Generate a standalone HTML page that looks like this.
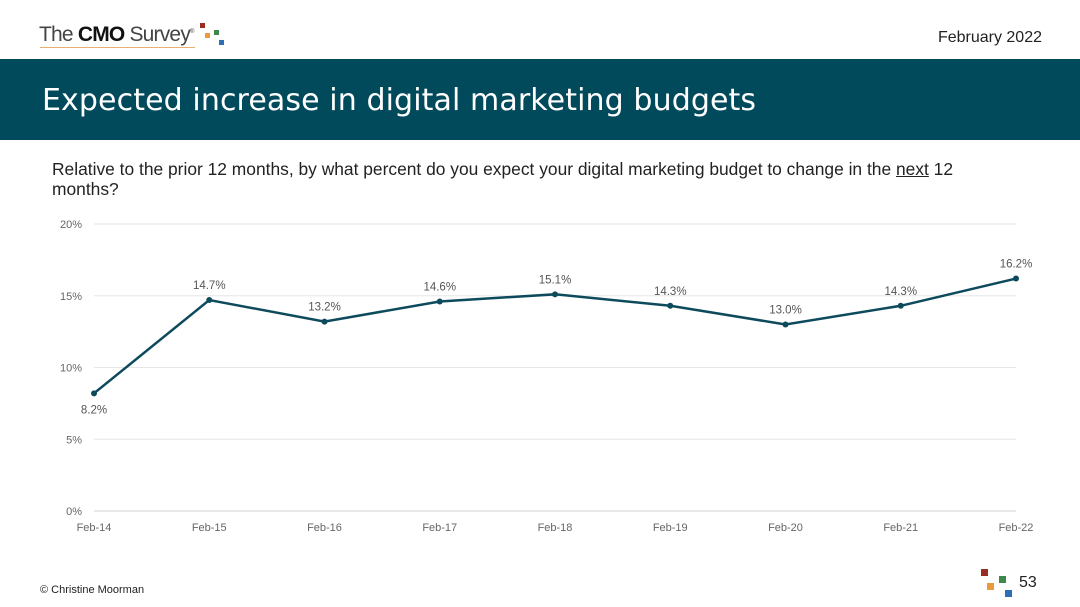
<!DOCTYPE html>
<html><head><meta charset="utf-8"><style>
body{margin:0;width:1080px;height:607px;background:#fff;font-family:"Liberation Sans",sans-serif;position:relative;overflow:hidden}
.abs{position:absolute}
</style></head><body>
<div class="abs" style="left:39px;top:23px;font-size:21px;color:#444;letter-spacing:-0.8px">The <b style="color:#111">CMO</b> Survey<sup style="font-size:6px">®</sup></div>
<div class="abs" style="left:40px;top:47px;width:155px;height:1px;background:#e8b070"></div>
<div class="abs" style="left:200px;top:23px;width:5px;height:5px;background:#9b2d20"></div>
<div class="abs" style="left:205px;top:33px;width:5px;height:5px;background:#e89a3c"></div>
<div class="abs" style="left:214px;top:30px;width:5px;height:5px;background:#3c8a4a"></div>
<div class="abs" style="left:219px;top:40px;width:5px;height:5px;background:#2d6fb5"></div>
<div class="abs" style="right:38px;top:29px;font-size:16px;color:#222">February 2022</div>
<div class="abs" style="left:0;top:59px;width:1080px;height:81px;background:#004a5c"></div>
<div class="abs" style="left:42px;top:83px;font-size:30px;color:#fff;font-family:'DejaVu Sans',sans-serif;letter-spacing:0.1px">Expected increase in digital marketing budgets</div>
<div class="abs" style="left:52px;top:159px;width:960px;font-size:17.4px;line-height:20px;color:#222">Relative to the prior 12 months, by what percent do you expect your digital marketing budget to change in the <u>next</u> 12 months?</div>
<svg class="abs" style="left:0;top:0" width="1080" height="607" id="chart"></svg>
<div class="abs" style="left:40px;top:584px;font-size:11px;color:#222">© Christine Moorman</div>
<div class="abs" style="left:981px;top:569px;width:7px;height:7px;background:#9b2d20"></div>
<div class="abs" style="left:999px;top:576px;width:7px;height:7px;background:#3c8a4a"></div>
<div class="abs" style="left:987px;top:583px;width:7px;height:7px;background:#e89a3c"></div>
<div class="abs" style="left:1005px;top:590px;width:7px;height:7px;background:#2d6fb5"></div>
<div class="abs" style="left:1019px;top:574px;font-size:16px;color:#222">53</div>
<script>
const categories=["Feb-14","Feb-15","Feb-16","Feb-17","Feb-18","Feb-19","Feb-20","Feb-21","Feb-22"];
const values=[8.2,14.7,13.2,14.6,15.1,14.3,13.0,14.3,16.2];
const yTicks=[0,5,10,15,20];
const svg=document.getElementById('chart');
const NS='http://www.w3.org/2000/svg';
const x=i=>94+i*(1016-94)/(categories.length-1);
const y=v=>511-v*(511-224)/20;
function mk(t,a){const e=document.createElementNS(NS,t);for(const k in a)e.setAttribute(k,a[k]);svg.appendChild(e);return e;}
yTicks.forEach(t=>{
const l=mk('line',{x1:94,x2:1016,y1:y(t),y2:y(t),stroke:t===0?'#d0d0d0':'#e6e6e6','stroke-width':1});


const tx=mk('text',{x:82,y:y(t)+4,'text-anchor':'end','font-size':11,fill:'#666','font-family':'Liberation Sans'});
tx.textContent=t+'%';


});
categories.forEach((c,i)=>{
const tx=mk('text',{x:x(i),y:531,'text-anchor':'middle','font-size':11,fill:'#666','font-family':'Liberation Sans'});
tx.textContent=c;


});
const p=mk('polyline',{points:values.map((v,i)=>x(i)+','+y(v)).join(' '),fill:'none',stroke:'#0d4a5c','stroke-width':2.5});


values.forEach((v,i)=>{
const c=mk('circle',{cx:x(i),cy:y(v),r:3,fill:'#0d4a5c'});


const below=i===0;
const tx=mk('text',{x:x(i),y:below?y(v)+20:y(v)-11,'text-anchor':'middle','font-size':11.5,fill:'#555','font-family':'Liberation Sans'});
tx.textContent=v.toFixed(1)+'%';


});
</script>
</body></html>
